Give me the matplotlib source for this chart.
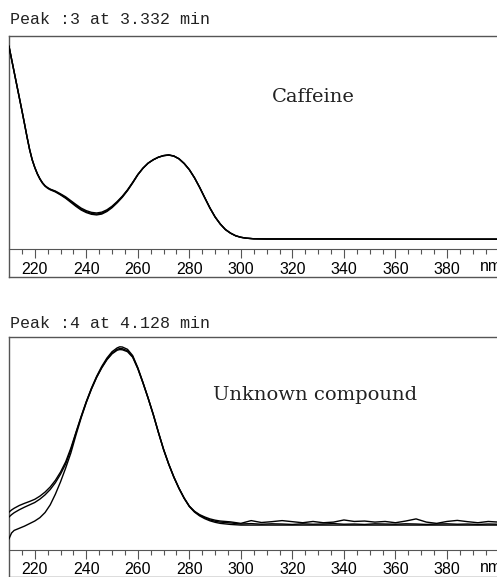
import matplotlib
matplotlib.use("Agg")
import matplotlib.pyplot as plt

# --- top panel: caffeine (three overlaid spectra)
wl_top = [210, 211, 212, 213, 214, 215, 216, 217, 218, 219, 220, 221, 222, 223,
          224, 225, 226, 228, 230, 232, 234, 236, 238, 240, 242, 244, 246, 248,
          250, 252, 254, 256, 258, 260, 262, 264, 266, 268, 270, 272, 274, 276,
          278, 280, 282, 284, 286, 288, 290, 292, 294, 296, 298, 300, 302, 305,
          310, 320, 340, 360, 380, 400]
caf_1 = [0.952, 0.892, 0.832, 0.772, 0.712, 0.652, 0.590, 0.527, 0.468, 0.420,
         0.384, 0.354, 0.330, 0.311, 0.297, 0.288, 0.281, 0.272, 0.259, 0.245,
         0.227, 0.209, 0.192, 0.180, 0.172, 0.169, 0.173, 0.184, 0.201, 0.223,
         0.248, 0.278, 0.313, 0.350, 0.380, 0.403, 0.419, 0.431, 0.438, 0.441,
         0.436, 0.423, 0.401, 0.372, 0.334, 0.289, 0.240, 0.192, 0.150, 0.117,
         0.091, 0.074, 0.062, 0.055, 0.051, 0.048, 0.047, 0.047, 0.047, 0.046,
         0.046, 0.046]
caf_2 = [0.950, 0.890, 0.830, 0.770, 0.710, 0.650, 0.588, 0.525, 0.466, 0.418,
         0.382, 0.352, 0.328, 0.309, 0.295, 0.285, 0.278, 0.268, 0.254, 0.238,
         0.219, 0.200, 0.183, 0.171, 0.163, 0.160, 0.164, 0.176, 0.194, 0.217,
         0.243, 0.274, 0.310, 0.348, 0.379, 0.403, 0.419, 0.431, 0.439, 0.442,
         0.437, 0.424, 0.402, 0.373, 0.335, 0.290, 0.241, 0.193, 0.151, 0.118,
         0.092, 0.075, 0.062, 0.055, 0.051, 0.048, 0.047, 0.047, 0.047, 0.047,
         0.046, 0.046]
caf_3 = [0.951, 0.891, 0.831, 0.771, 0.711, 0.651, 0.589, 0.526, 0.467, 0.419,
         0.383, 0.353, 0.329, 0.310, 0.296, 0.287, 0.280, 0.270, 0.256, 0.241,
         0.223, 0.204, 0.187, 0.175, 0.167, 0.164, 0.168, 0.180, 0.197, 0.220,
         0.246, 0.276, 0.311, 0.349, 0.379, 0.403, 0.419, 0.431, 0.438, 0.441,
         0.436, 0.423, 0.401, 0.372, 0.334, 0.289, 0.240, 0.192, 0.150, 0.117,
         0.091, 0.074, 0.062, 0.055, 0.051, 0.048, 0.047, 0.047, 0.047, 0.046,
         0.046, 0.046]

# --- bottom panel: unknown compound (three overlaid spectra)
wl_bot = [210, 211, 212, 214, 216, 218, 220, 222, 224, 226, 228, 230, 232, 234,
          236, 238, 240, 242, 244, 246, 248, 250, 252, 253, 254, 256, 258, 260,
          262, 264, 266, 268, 270, 272, 274, 276, 278, 280, 282, 284, 286, 288,
          290, 292, 296, 300, 304, 308, 312, 316, 320, 324, 328, 332, 336, 340,
          344, 348, 352, 356, 360, 364, 368, 372, 376, 380, 384, 388, 392, 396,
          400]
unk_1 = [0.178, 0.188, 0.196, 0.209, 0.219, 0.228, 0.238, 0.253, 0.272, 0.296,
         0.327, 0.366, 0.414, 0.478, 0.553, 0.627, 0.697, 0.760, 0.815, 0.862,
         0.901, 0.931, 0.949, 0.954, 0.953, 0.942, 0.913, 0.856, 0.787, 0.714,
         0.637, 0.553, 0.473, 0.404, 0.343, 0.290, 0.244, 0.206, 0.182, 0.166,
         0.155, 0.146, 0.140, 0.136, 0.132, 0.125, 0.138, 0.129, 0.133, 0.138,
         0.133, 0.128, 0.134, 0.128, 0.131, 0.141, 0.134, 0.136, 0.131, 0.134,
         0.128, 0.136, 0.146, 0.131, 0.125, 0.134, 0.139, 0.133, 0.128, 0.134,
         0.131]
unk_2 = [0.155, 0.166, 0.175, 0.189, 0.201, 0.212, 0.223, 0.239, 0.259, 0.284,
         0.316, 0.356, 0.404, 0.470, 0.550, 0.625, 0.695, 0.757, 0.811, 0.857,
         0.895, 0.924, 0.942, 0.946, 0.945, 0.935, 0.908, 0.853, 0.785, 0.713,
         0.636, 0.552, 0.472, 0.403, 0.342, 0.289, 0.243, 0.205, 0.180, 0.163,
         0.151, 0.141, 0.135, 0.131, 0.127, 0.122, 0.124, 0.121, 0.123, 0.122,
         0.120, 0.123, 0.121, 0.122, 0.124, 0.121, 0.122, 0.120, 0.123, 0.122,
         0.121, 0.123, 0.122, 0.120, 0.122, 0.123, 0.121, 0.122, 0.120, 0.122,
         0.121]
unk_3 = [0.053, 0.080, 0.092, 0.102, 0.112, 0.124, 0.136, 0.152, 0.176, 0.212,
         0.262, 0.320, 0.385, 0.455, 0.540, 0.620, 0.692, 0.755, 0.810, 0.855,
         0.893, 0.921, 0.938, 0.941, 0.940, 0.931, 0.905, 0.851, 0.784, 0.712,
         0.635, 0.551, 0.471, 0.402, 0.341, 0.288, 0.242, 0.204, 0.178, 0.160,
         0.147, 0.137, 0.130, 0.125, 0.120, 0.117, 0.117, 0.117, 0.117, 0.117,
         0.117, 0.117, 0.117, 0.117, 0.117, 0.117, 0.117, 0.117, 0.117, 0.117,
         0.117, 0.117, 0.117, 0.117, 0.117, 0.117, 0.117, 0.117, 0.117, 0.117,
         0.117]

tick_major = [220, 240, 260, 280, 300, 320, 340, 360, 380]
tick_minor = [215, 225, 230, 235, 245, 250, 255, 265, 270, 275, 285, 290, 295,
              305, 310, 315, 325, 330, 335, 345, 350, 355, 365, 370, 375, 385,
              390, 395]

W, H = 497, 577
fig = plt.figure(figsize=(W / 100, H / 100), dpi=100)
frame_col = '#555555'
tick_font = ['Liberation Sans Narrow', 'Liberation Sans']


def panel(top, axis_y, bottom, wl, series, title, title_y, label, label_x, label_y):
    left = 9 / W
    width = 489.5 / W
    # outer box, includes the strip with the tick labels
    fr = fig.add_axes([left, 1 - bottom / H, width, (bottom - top) / H])
    fr.set_xticks([])
    fr.set_yticks([])
    fr.patch.set_alpha(0)
    for s in fr.spines.values():
        s.set_color(frame_col)
        s.set_linewidth(1.0)

    ax = fig.add_axes([left, 1 - axis_y / H, width, (axis_y - top) / H])
    ax.patch.set_alpha(0)
    for y in series:
        ax.plot(wl, y, color='black', lw=1.0)
    ax.set_xlim(210, 400)
    ax.set_ylim(0, 1)
    ax.set_yticks([])
    for k in ['top', 'left', 'right']:
        ax.spines[k].set_visible(False)
    ax.spines['bottom'].set_color(frame_col)
    ax.set_xticks(tick_major)
    ax.set_xticks(tick_minor, minor=True)
    ax.tick_params(axis='x', which='major', direction='out', length=6.5,
                   width=0.8, color=frame_col, pad=2.5, labelsize=11.5)
    ax.tick_params(axis='x', which='minor', direction='out', length=3.5,
                   width=0.8, color=frame_col)
    for t in ax.get_xticklabels():
        t.set_family(tick_font)
    ax.text(397, -0.082, 'nm', ha='center', va='center', fontsize=11.5,
            family=tick_font, transform=ax.get_xaxis_transform())

    fig.text(10 / W, 1 - title_y / H, title, ha='left', va='center',
             family='Liberation Mono', fontsize=12, color='#222222')
    fig.text(label_x / W, 1 - label_y / H, label, ha='left', va='center',
             family='DejaVu Serif', fontsize=14, color='#222222')


panel(36, 249, 277, wl_top, [caf_1, caf_2, caf_3],
      'Peak :3 at 3.332 min', 19, 'Caffeine', 272, 97)
panel(337, 550, 576.5, wl_bot, [unk_1, unk_2, unk_3],
      'Peak :4 at 4.128 min', 323, 'Unknown compound', 213, 395)

fig.savefig('out.png', dpi=100)
